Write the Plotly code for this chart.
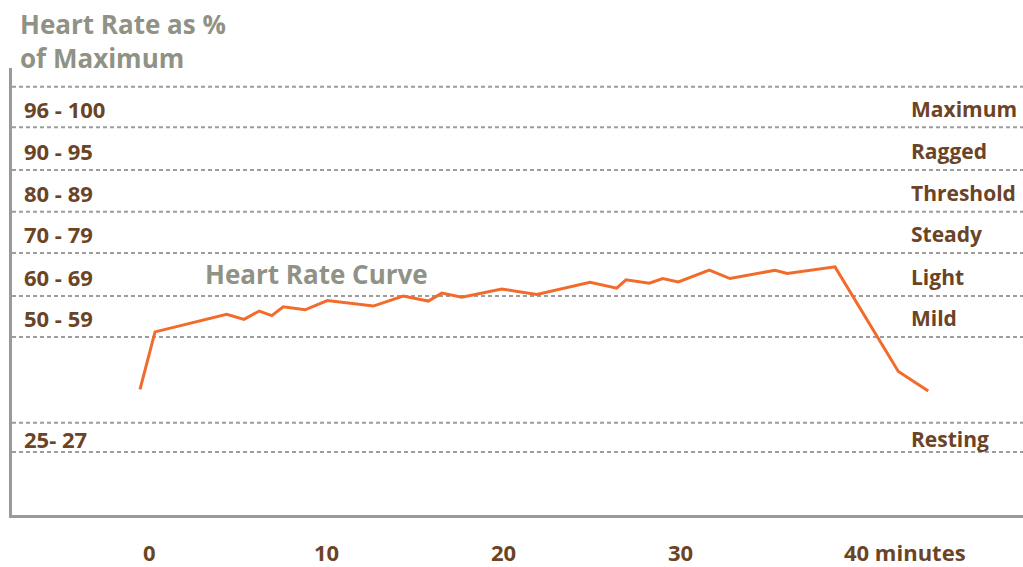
import plotly.graph_objects as go

# Zone boundaries (in "zone level" units) and labels
boundary_levels = [8.76, 7.79, 6.76, 5.76, 4.77, 3.74, 2.76, 0.70, 0.0]
zone_ranges = ["96 - 100", "90 - 95", "80 - 89", "70 - 79", "60 - 69", "50 - 59", "25- 27"]
zone_names = ["Maximum", "Ragged", "Threshold", "Steady", "Light", "Mild", "Resting"]
# band index pairs (upper boundary idx, lower boundary idx) for each label
zone_bands = [(0, 1), (1, 2), (2, 3), (3, 4), (4, 5), (5, 6), (7, 8)]

# Heart rate curve: minutes vs zone level
minutes = [-0.56, 0.29, 4.34, 5.32, 6.18, 6.89, 7.54, 8.77, 10.03, 12.63, 14.32, 15.74,
           16.50, 17.63, 19.89, 21.87, 24.88, 26.39, 26.91, 28.23, 28.99, 29.87, 31.62,
           32.79, 35.34, 36.03, 38.73, 42.31, 44.00]
levels = [1.50, 2.88, 3.30, 3.18, 3.38, 3.27, 3.48, 3.41, 3.63, 3.50, 3.74, 3.62,
          3.81, 3.71, 3.91, 3.78, 4.07, 3.93, 4.13, 4.05, 4.16, 4.08, 4.36,
          4.16, 4.36, 4.28, 4.44, 1.93, 1.46]

x_ticks = [0, 10, 20, 30, 40]
x_tick_text = ["0", "10", "20", "30", "40 minutes"]

BROWN = "#6b4426"
GREY_TEXT = "#8f9285"
ORANGE = "#f26b2b"
AXIS_GREY = "#979b9f"
DOT_GREY = "#9d9d9d"
FONT = "Open Sans"

W, H = 1023, 567
ML, MR, MT, MB = 12, 0, 68, 52
PX_PER_MIN = 17.69
X0_PX = 149.9
PX_PER_LEVEL = 41.7
Y0_PX = 452

plot_w = W - ML - MR
plot_h = H - MT - MB
x_range = [(ML - X0_PX) / PX_PER_MIN, (W - MR - X0_PX) / PX_PER_MIN]
y_range = [(Y0_PX - (H - MB)) / PX_PER_LEVEL, (Y0_PX - MT) / PX_PER_LEVEL]

fig = go.Figure()
fig.add_trace(go.Scatter(x=minutes, y=levels, mode="lines",
                         line=dict(color=ORANGE, width=3), hoverinfo="skip"))

shapes = []
for lv in boundary_levels:
    shapes.append(dict(type="line", xref="paper", yref="y", x0=0, x1=1, y0=lv, y1=lv,
                       line=dict(color=DOT_GREY, width=2, dash="4px,3px"), layer="below"))

annotations = []
left_font = dict(family=FONT, size=22, color=BROWN, weight=700)
right_font = dict(family=FONT, size=21, color=BROWN, weight=700)
for (a, b), rng, name in zip(zone_bands, zone_ranges, zone_names):
    ymid = (boundary_levels[a] + boundary_levels[b]) / 2
    annotations.append(dict(text=rng, xref="paper", yref="y", x=0, y=ymid, xshift=10, yshift=-2,
                            xanchor="left", yanchor="middle", showarrow=False, font=left_font))
    annotations.append(dict(text=name, xref="paper", yref="y", x=(909 - ML) / plot_w, y=ymid,
                            yshift=-2, xanchor="left", yanchor="middle", showarrow=False,
                            font=right_font))

for xv, txt in zip(x_ticks, x_tick_text):
    if " " in txt:
        annotations.append(dict(text=txt, xref="x", yref="paper", x=xv, y=0, xanchor="left",
                                yanchor="middle", xshift=-15, yshift=-37, borderpad=0,
                                showarrow=False, font=left_font))
    else:
        annotations.append(dict(text=txt, xref="x", yref="paper", x=xv, y=0, xanchor="center",
                                yanchor="middle", yshift=-37, borderpad=0, showarrow=False,
                                font=left_font))

title_font = dict(family=FONT, size=26, color=GREY_TEXT, weight=700)
annotations.append(dict(text="Heart Rate as %<br>of Maximum", xref="paper", yref="paper",
                        x=0, y=1, xshift=6, yshift=MT - 4, xanchor="left", yanchor="top",
                        align="left", showarrow=False, font=title_font))
annotations.append(dict(text="Heart Rate Curve", xref="x", yref="y",
                        x=(316 - X0_PX) / PX_PER_MIN, y=(Y0_PX - 274) / PX_PER_LEVEL,
                        xanchor="center", yanchor="middle", showarrow=False, font=title_font))

fig.update_layout(
    width=W, height=H,
    margin=dict(l=ML, r=MR, t=MT, b=MB, pad=0),
    paper_bgcolor="white", plot_bgcolor="white",
    showlegend=False,
    xaxis=dict(range=x_range, showgrid=False, zeroline=False, showticklabels=False, ticks="",
               showline=True, linecolor=AXIS_GREY, linewidth=3, fixedrange=True),
    yaxis=dict(range=y_range, showgrid=False, zeroline=False, showticklabels=False, ticks="",
               showline=True, linecolor=AXIS_GREY, linewidth=3, fixedrange=True),
    shapes=shapes, annotations=annotations,
)

fig.write_html("out.html", config={"displayModeBar": False},
               post_script="document.body.style.margin='0';")
